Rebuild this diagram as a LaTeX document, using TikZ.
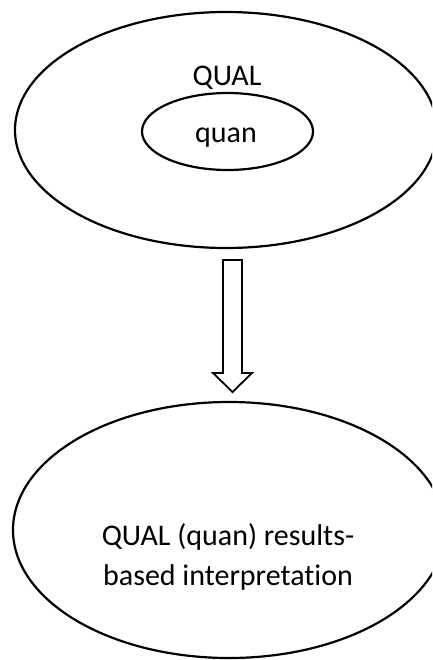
\documentclass[tikz,border=0pt]{standalone}
\usepackage{fontspec}
\setmainfont[Ligatures=NoCommon]{Carlito}
\usetikzlibrary{shapes.geometric}
\begin{document}
\begin{tikzpicture}[x=1pt,y=-1pt,
  outline/.style={draw=black, line width=2.2pt, ellipse, inner sep=0pt, outer sep=0pt},
  label/.style={font=\fontsize{30}{40}\selectfont, inner sep=0pt, align=center},
  blockarrow/.style={draw=black, fill=white, line width=1.8pt, line join=miter}]
  \useasboundingbox (0,0) rectangle (432,660);
  \clip (0,0) rectangle (432,660);

  % upper ellipse with nested quan ellipse
  \node[outline, minimum width=422pt, minimum height=236pt] (outer) at (226,130) {};
  \node[outline, minimum width=171pt, minimum height=77pt] (inner) at (227.5,131.5) {};
  \node[label, anchor=base] (qualtxt) at (227,86) {QUAL};
  \node[label, anchor=base] (quantxt) at (226,143) {quan};

  % hollow block arrow between the two ellipses
  \coordinate (arrtop) at (232.5,260);
  \coordinate (arrtip) at (232.5,392);
  \draw[blockarrow] ([xshift=-9.5pt]arrtop) -- ([xshift=9.5pt]arrtop)
    -- ([xshift=9.5pt,yshift=19pt]arrtip) -- ([xshift=19.5pt,yshift=19pt]arrtip)
    -- (arrtip) -- ([xshift=-19.5pt,yshift=19pt]arrtip)
    -- ([xshift=-9.5pt,yshift=19pt]arrtip) -- cycle;

  % lower ellipse with interpretation text
  \node[outline, minimum width=432pt, minimum height=256pt] (result) at (229,530) {};
  \node[label] (resulttxt) at (228,557) {QUAL (quan) results-\\based interpretation};
\end{tikzpicture}
\end{document}
